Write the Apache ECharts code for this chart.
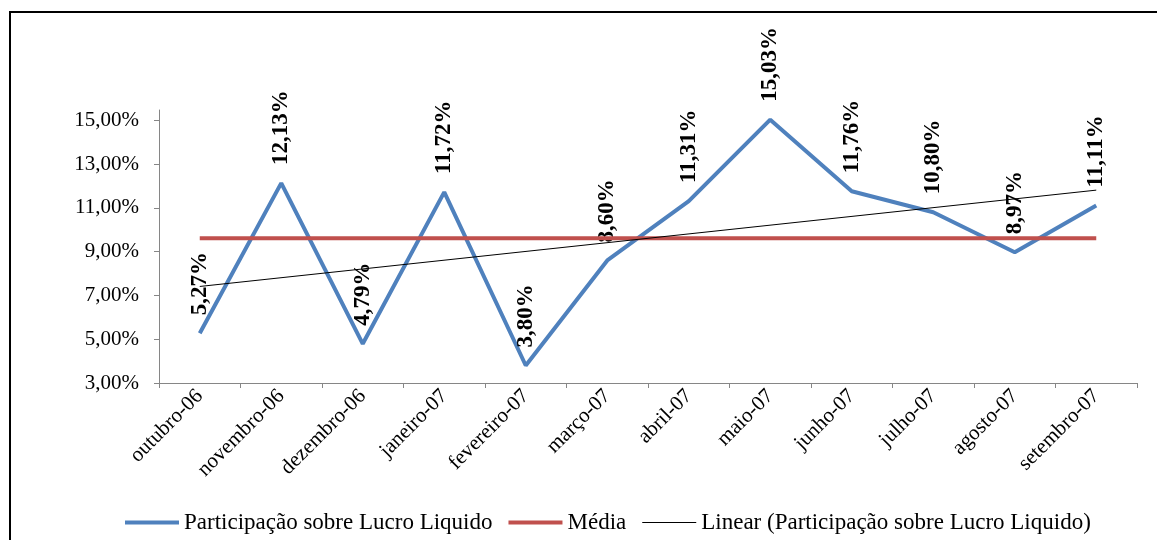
<!DOCTYPE html>
<html><head><meta charset="utf-8">
<script src="https://cdn.jsdelivr.net/npm/echarts@6/dist/echarts.min.js"></script>
<style>html,body{margin:0;padding:0;background:#fff}#c{width:1157px;height:540px}</style>
</head><body><div id="c"></div>
<script>
const categories = ['outubro-06','novembro-06','dezembro-06','janeiro-07','fevereiro-07','março-07','abril-07','maio-07','junho-07','julho-07','agosto-07','setembro-07'];
const participacao = [5.27, 12.13, 4.79, 11.72, 3.80, 8.60, 11.31, 15.03, 11.76, 10.80, 8.97, 11.11];
const media = [9.61, 9.61, 9.61, 9.61, 9.61, 9.61, 9.61, 9.61, 9.61, 9.61, 9.61, 9.61];
const linear = [7.41, null, null, null, null, null, null, null, null, null, null, 11.81];
const yTicks = [3, 5, 7, 9, 11, 13, 15];
const names = ['Participação sobre Lucro Liquido', 'Média', 'Linear (Participação sobre Lucro Liquido)'];

const fmt = v => v.toFixed(2).replace('.', ',') + '%';
const serif = '"Liberation Serif", "Times New Roman", serif';
const thick = 'path://M0,0 L52,0 L52,4 L0,4 Z';
const thin = 'path://M0,0 L52,0 L52,1 L0,1 Z';
const chart = echarts.init(document.getElementById('c'));
chart.setOption({
  animation: false,
  textStyle: { fontFamily: serif },
  graphic: [{ type: 'rect', shape: { x: 10, y: 12, width: 1300, height: 700 }, style: { fill: 'none', stroke: '#000', lineWidth: 2 }, silent: true }],
  grid: { left: 159, right: 20, top: 110, bottom: 157 },
  legend: {
    bottom: 1, left: 120, itemWidth: 54, itemHeight: 10, itemGap: 16,
    textStyle: { fontFamily: serif, fontSize: 23, color: '#000' },
    data: [{ name: names[0], icon: thick }, { name: names[1], icon: thick }, { name: names[2], icon: thin }]
  },
  xAxis: {
    type: 'category', data: categories, boundaryGap: true,
    axisLine: { lineStyle: { color: '#868686', width: 1 } },
    axisTick: { show: true, alignWithLabel: false, length: 5, lineStyle: { color: '#868686' } },
    axisLabel: { rotate: 45, interval: 0, fontFamily: serif, fontSize: 21, color: '#000', margin: 10 }
  },
  yAxis: {
    type: 'value', min: 3, max: 15.47, interval: 2,
    splitLine: { show: false },
    axisLine: { show: true, lineStyle: { color: '#868686', width: 1 } },
    axisTick: { show: true, length: 5, lineStyle: { color: '#868686' }, customValues: yTicks },
    axisLabel: { fontFamily: serif, fontSize: 21, color: '#000', margin: 20, customValues: yTicks, formatter: v => fmt(v) }
  },
  series: [
    { name: names[0], type: 'line', data: participacao, symbol: 'circle', symbolSize: 0, showSymbol: true, z: 3,
      lineStyle: { color: '#4F81BD', width: 4 }, itemStyle: { color: '#4F81BD' },
      label: { show: true, position: 'top', distance: 18, rotate: 90, align: 'left', verticalAlign: 'middle',
        fontFamily: serif, fontSize: 23, fontWeight: 'bold', color: '#000', formatter: p => fmt(p.value) } },
    { name: names[1], type: 'line', data: media, symbol: 'none', z: 4,
      lineStyle: { color: '#C0504D', width: 4 }, itemStyle: { color: '#C0504D' } },
    { name: names[2], type: 'line', data: linear, symbol: 'none', connectNulls: true, z: 5,
      lineStyle: { color: '#000', width: 1 }, itemStyle: { color: '#000' } }
  ]
});
</script></body></html>
